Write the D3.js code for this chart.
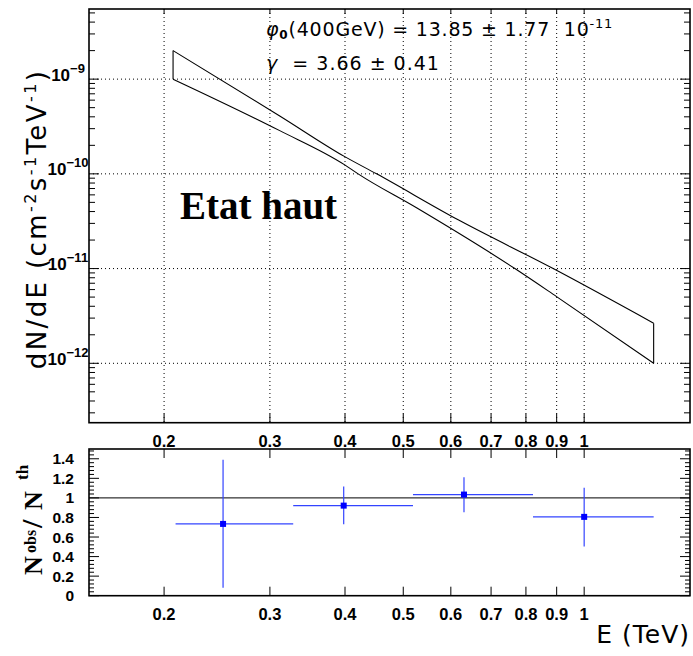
<!DOCTYPE html>
<html><head><meta charset="utf-8">
<script src="https://cdn.jsdelivr.net/npm/d3@7"></script>
<style>body{margin:0;background:#fff;} svg{display:block;}</style>
</head><body>
<svg id="c" width="693" height="656"></svg>
<script>
// ---- data ----
const xTicks = [0.2, 0.3, 0.4, 0.5, 0.6, 0.7, 0.8, 0.9, 1];
const xTickLabels = ["0.2", "0.3", "0.4", "0.5", "0.6", "0.7", "0.8", "0.9", "1"];
const yDecades = [1e-9, 1e-10, 1e-11, 1e-12];
const yDecadeExps = ["-9", "-10", "-11", "-12"];
// butterfly band edges
const bandUpperE = [0.207, 0.3115, 0.3996, 0.4514, 0.6171, 0.888, 1.305];
const bandUpperF = [2.0e-9, 4.09e-10, 1.52e-10, 1.0e-10, 3.27e-11, 1.0e-11, 2.65e-12];
const bandLowerE = [0.207, 0.3115, 0.3996, 0.4206, 0.5261, 0.7668, 0.8996, 1.305];
const bandLowerF = [1.0e-9, 2.86e-10, 1.245e-10, 1.0e-10, 4.38e-11, 1.0e-11, 5.06e-12, 1.0e-12];
const ratioE = [0.2507, 0.398, 0.631, 1.0];
const ratioVal = [0.734, 0.921, 1.034, 0.806];
const binLow = [0.209, 0.328, 0.519, 0.822];
const binHigh = [0.328, 0.519, 0.822, 1.305];
const ratioLow = [0.082, 0.731, 0.854, 0.502];
const ratioHigh = [1.389, 1.116, 1.212, 1.105];
const ratioTicks = [0, 0.2, 0.4, 0.6, 0.8, 1, 1.2, 1.4];
const ratioTickLabels = ["0", "0.2", "0.4", "0.6", "0.8", "1", "1.2", "1.4"];

const svg = d3.select("#c");
const L = 89, R = 690;
const T1 = 9, B1 = 422.7, T2 = 449, B2 = 595.7;
const x = d3.scaleLog().domain([0.15, 1.5]).range([L, R]);
const y = d3.scaleLog().domain([2.36e-13, 5.5e-9]).range([B1, T1]);
const y2 = d3.scaleLinear().domain([0, 1.5]).range([B2, T2]);
const tickFont = "'Liberation Sans', Arial, sans-serif";
const comicFont = "'DejaVu Sans', sans-serif";

// ---- top panel grid ----
const g1 = svg.append("g");
g1.selectAll(".vg").data(xTicks).join("line")
  .attr("x1", d => x(d)).attr("x2", d => x(d)).attr("y1", T1).attr("y2", B1)
  .attr("stroke", "#000").attr("stroke-width", 1).attr("stroke-dasharray", "1,3");
g1.selectAll(".hg").data(yDecades).join("line")
  .attr("x1", L).attr("x2", R).attr("y1", d => y(d)).attr("y2", d => y(d))
  .attr("stroke", "#000").attr("stroke-width", 1).attr("stroke-dasharray", "1,3");

const minorY = [];
for (let e = -13; e <= -9; e++) for (let m = 1; m <= 9; m++) {
  const v = m * Math.pow(10, e);
  if (v >= y.domain()[0] && v <= y.domain()[1]) minorY.push({v, major: m === 1});
}
g1.selectAll(".ytl").data(minorY).join("line")
  .attr("x1", L).attr("x2", d => L + (d.major ? 10 : 6))
  .attr("y1", d => y(d.v)).attr("y2", d => y(d.v)).attr("stroke", "#000").attr("stroke-width", 1);
g1.selectAll(".ytr").data(minorY).join("line")
  .attr("x1", R).attr("x2", d => R - (d.major ? 10 : 6))
  .attr("y1", d => y(d.v)).attr("y2", d => y(d.v)).attr("stroke", "#000").attr("stroke-width", 1);
g1.selectAll(".xtb").data(xTicks).join("line")
  .attr("x1", d => x(d)).attr("x2", d => x(d)).attr("y1", B1).attr("y2", B1 - 9)
  .attr("stroke", "#000").attr("stroke-width", 1);
g1.selectAll(".xtt").data(xTicks).join("line")
  .attr("x1", d => x(d)).attr("x2", d => x(d)).attr("y1", T1).attr("y2", T1 + 5)
  .attr("stroke", "#000").attr("stroke-width", 1);

// butterfly band
const edge = d3.line().x(d => x(d[0])).y(d => y(d[1])).curve(d3.curveMonotoneX);
const up = bandUpperE.map((e, i) => [e, bandUpperF[i]]);
const lo = bandLowerE.map((e, i) => [e, bandLowerF[i]]);
const bandStyle = sel => sel.attr("fill", "none").attr("stroke", "#000").attr("stroke-width", 1.1);
g1.append("path").attr("d", edge(up)).call(bandStyle);
g1.append("path").attr("d", edge(lo)).call(bandStyle);
g1.append("path").attr("d", d3.line()([[x(up[0][0]), y(up[0][1])], [x(lo[0][0]), y(lo[0][1])]])).call(bandStyle);
g1.append("path").attr("d", d3.line()([[x(up[up.length - 1][0]), y(up[up.length - 1][1])],
  [x(lo[lo.length - 1][0]), y(lo[lo.length - 1][1])]])).call(bandStyle);

svg.append("rect").attr("x", L).attr("y", T1).attr("width", R - L).attr("height", B1 - T1)
  .attr("fill", "none").attr("stroke", "#000").attr("stroke-width", 1.6);

// y labels top
yDecades.forEach((d, i) => {
  const t = svg.append("text").attr("x", 68).attr("y", y(d) + 1.5)
    .attr("text-anchor", "middle").attr("font-family", tickFont).attr("font-weight", "bold")
    .attr("font-size", 17).attr("fill", "#000");
  t.append("tspan").text("10");
  t.append("tspan").attr("dy", -8).attr("font-size", 13).text(yDecadeExps[i].replace("-", "\u2212"));
});
svg.selectAll(".xl1").data(xTicks).join("text")
  .attr("x", d => x(d)).attr("y", 447).attr("text-anchor", "middle")
  .attr("font-family", tickFont).attr("font-weight", "bold").attr("font-size", 16.5)
  .text((d, i) => xTickLabels[i]);

// y axis title top
const yt = svg.append("text").attr("transform", "translate(46,219) rotate(-90)")
  .attr("text-anchor", "middle").attr("font-family", comicFont)
  .attr("font-size", 26).attr("letter-spacing", 2.4).attr("fill", "#000");
yt.append("tspan").text("dN/dE (cm");
yt.append("tspan").attr("dy", -10).attr("font-size", 16).text("-2");
yt.append("tspan").attr("dy", 10).text("s");
yt.append("tspan").attr("dy", -10).attr("font-size", 16).text("-1");
yt.append("tspan").attr("dy", 10).text("TeV");
yt.append("tspan").attr("dy", -10).attr("font-size", 16).text("-1");
yt.append("tspan").attr("dy", 10).text(")");

// annotations
const a1 = svg.append("text").attr("x", 266).attr("y", 36)
  .attr("font-family", comicFont).attr("font-size", 19).attr("letter-spacing", 0.8).attr("fill", "#000");
a1.append("tspan").attr("font-style", "italic").text("\u03C6");
a1.append("tspan").attr("font-size", 12).attr("dy", 3).attr("font-weight", "bold").text("0");
a1.append("tspan").attr("dy", -3).text("(400GeV) = 13.85 \u00B1 1.77\u00A0\u00A010");
a1.append("tspan").attr("dy", -8).attr("font-size", 13).text("-11");
const a2 = svg.append("text").attr("x", 266).attr("y", 70)
  .attr("font-family", comicFont).attr("font-size", 19).attr("letter-spacing", 1).attr("fill", "#000");
a2.append("tspan").attr("font-style", "italic").text("\u03B3");
a2.append("tspan").text("\u00A0\u00A0= 3.66 \u00B1 0.41");

svg.append("text").attr("x", 180).attr("y", 219)
  .attr("font-family", "'Liberation Serif', 'Times New Roman', serif").attr("font-weight", "bold")
  .attr("font-size", 39).attr("fill", "#000").text("Etat haut");

// ---- bottom panel ----
const g2 = svg.append("g");
const minor2 = d3.range(0, 1.5001, 0.04).map(v => ({v, major: Math.abs(v / 0.2 - Math.round(v / 0.2)) < 1e-6}));
g2.selectAll(".yl2").data(minor2).join("line")
  .attr("x1", L).attr("x2", d => L + (d.major ? 10 : 5))
  .attr("y1", d => y2(d.v)).attr("y2", d => y2(d.v)).attr("stroke", "#000").attr("stroke-width", 1);
g2.selectAll(".yr2").data(minor2).join("line")
  .attr("x1", R).attr("x2", d => R - (d.major ? 10 : 5))
  .attr("y1", d => y2(d.v)).attr("y2", d => y2(d.v)).attr("stroke", "#000").attr("stroke-width", 1);
g2.selectAll(".xb2").data(xTicks).join("line")
  .attr("x1", d => x(d)).attr("x2", d => x(d)).attr("y1", B2).attr("y2", B2 - 9)
  .attr("stroke", "#000").attr("stroke-width", 1);
g2.selectAll(".xt2").data(xTicks).join("line")
  .attr("x1", d => x(d)).attr("x2", d => x(d)).attr("y1", T2).attr("y2", T2 + 9)
  .attr("stroke", "#000").attr("stroke-width", 1);
g2.append("line").attr("x1", L).attr("x2", R).attr("y1", y2(1)).attr("y2", y2(1))
  .attr("stroke", "#000").attr("stroke-width", 1);
const blue = "#3344ff";
ratioE.forEach((e, i) => {
  g2.append("line").attr("x1", x(binLow[i])).attr("x2", x(binHigh[i]))
    .attr("y1", y2(ratioVal[i])).attr("y2", y2(ratioVal[i])).attr("stroke", blue).attr("stroke-width", 1.2);
  g2.append("line").attr("x1", x(e)).attr("x2", x(e))
    .attr("y1", y2(ratioLow[i])).attr("y2", y2(ratioHigh[i])).attr("stroke", blue).attr("stroke-width", 1.2);
  g2.append("rect").attr("x", x(e) - 3).attr("y", y2(ratioVal[i]) - 3).attr("width", 6).attr("height", 6)
    .attr("fill", "#0000ff");
});
svg.append("rect").attr("x", L).attr("y", T2).attr("width", R - L).attr("height", B2 - T2)
  .attr("fill", "none").attr("stroke", "#000").attr("stroke-width", 1.6);

svg.selectAll(".ylab2").data(ratioTicks).join("text")
  .attr("x", 74).attr("y", d => y2(d) + 5.5).attr("text-anchor", "end")
  .attr("font-family", tickFont).attr("font-weight", "bold").attr("font-size", 15.5)
  .text((d, i) => ratioTickLabels[i]);
svg.selectAll(".xl2").data(xTicks).join("text")
  .attr("x", d => x(d)).attr("y", 620).attr("text-anchor", "middle")
  .attr("font-family", tickFont).attr("font-weight", "bold").attr("font-size", 16.5)
  .text((d, i) => xTickLabels[i]);

// bottom y title
const bt = svg.append("text").attr("transform", "translate(42,575) rotate(-90)")
  .attr("font-family", "'Liberation Serif', 'Times New Roman', serif").attr("font-weight", "bold")
  .attr("font-size", 26).attr("fill", "#000");
bt.append("tspan").attr("x", 0).attr("y", 0).text("N");
bt.append("tspan").attr("x", 22).attr("y", -6).attr("font-size", 16).text("obs");
bt.append("tspan").attr("x", 47).attr("y", 0).attr("font-size", 30).text("/");
bt.append("tspan").attr("x", 65).attr("y", 0).text("N");
bt.append("tspan").attr("x", 95).attr("y", -14).attr("font-size", 17).text("th");

svg.append("text").attr("x", 690).attr("y", 643).attr("text-anchor", "end")
  .attr("font-family", comicFont).attr("font-size", 25).attr("letter-spacing", 1).attr("fill", "#000")
  .text("E (TeV)");
</script>
</body></html>
